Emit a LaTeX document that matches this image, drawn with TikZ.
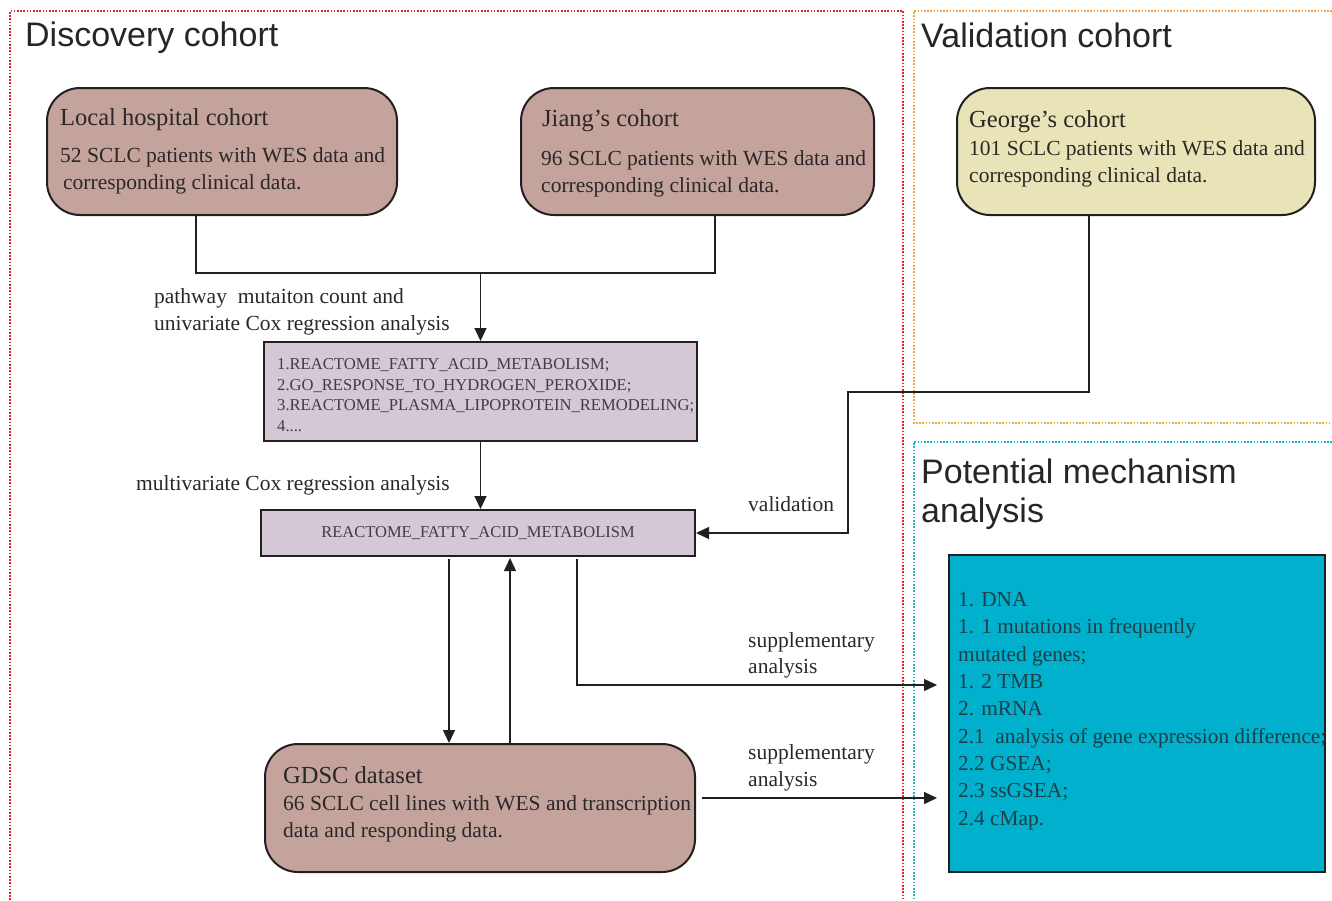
\documentclass[tikz,border=0pt]{standalone}
\usepackage{fontspec}
\setmainfont{Liberation Serif}
\setsansfont{Liberation Sans}
\usetikzlibrary{arrows.meta}
\definecolor{txt}{HTML}{2B2727}
\definecolor{brownfill}{HTML}{C4A39C}
\definecolor{lavfill}{HTML}{D5C8D6}
\definecolor{yelfill}{HTML}{E8E4B8}
\definecolor{cyanfill}{HTML}{00B0CD}
\definecolor{cyantxt}{HTML}{1D3F47}
\definecolor{frred}{HTML}{E8212A}
\definecolor{frorange}{HTML}{F7A740}
\definecolor{frcyan}{HTML}{1BB5D4}
\definecolor{edge}{HTML}{231F20}
\tikzset{
  frame/.style={line width=1.3pt, dash pattern=on 1.6pt off 1.6pt},
  rbox/.style={draw=edge, line width=2pt, rounded corners=33pt, inner sep=0pt},
  sbox/.style={draw=edge, line width=2pt, inner sep=0pt},
  maintitle/.style={font=\sffamily\fontsize{34}{40}\selectfont, text=black!85, anchor=base west, inner sep=0pt},
  boxtitle/.style={font=\fontsize{24.5}{28}\selectfont, text=txt, anchor=base west, inner sep=0pt},
  body/.style={font=\fontsize{21.5}{27}\selectfont, text=txt, anchor=base west, inner sep=0pt},
  small/.style={font=\fontsize{16.6}{20}\selectfont, text=txt!90, anchor=base west, inner sep=0pt},
  mechtxt/.style={font=\fontsize{21.3}{27}\selectfont, text=cyantxt, anchor=base west, inner sep=0pt},
  conn/.style={draw=edge, line width=1.3pt},
  arr/.style={conn, -{Triangle[length=13pt,width=12pt]}},
}
\begin{document}
\begin{tikzpicture}[x=1pt,y=-1pt]
\useasboundingbox (0,0) rectangle (1332,900);
% frames
\draw[frame, frred] (10,900) -- (10,11) -- (903,11) -- (903,900);
\draw[frame, frorange] (1332,11) -- (914,11) -- (914,423) -- (1332,423);
\draw[frame, frcyan] (1332,442) -- (914,442) -- (914,900);
% section titles
\node[maintitle] (t1) at (25,46) {Discovery cohort};
\node[maintitle] (t2) at (921,47) {Validation cohort};
\node[maintitle] (t3a) at (921,483) {Potential mechanism};
\node[maintitle] (t3b) at (921,522) {analysis};
% boxes
\node[rbox, fill=brownfill, minimum width=350pt, minimum height=127pt] (local) at (222,151.5) {};
\node[rbox, fill=brownfill, minimum width=353pt, minimum height=127pt] (jiang) at (697.5,151.5) {};
\node[rbox, fill=yelfill, minimum width=358pt, minimum height=127pt] (george) at (1136,151.5) {};
\node[sbox, fill=lavfill, minimum width=433pt, minimum height=99pt] (pw) at (480.5,391.5) {};
\node[sbox, fill=lavfill, minimum width=434pt, minimum height=46pt, font=\fontsize{16.5}{20}\selectfont, text=txt!90] (ra) at (478,533) {\raisebox{-3pt}{REACTOME\_FATTY\_ACID\_METABOLISM}};
\node[rbox, fill=brownfill, minimum width=430pt, minimum height=128pt] (gdsc) at (480,808) {};
\node[sbox, fill=cyanfill, minimum width=376pt, minimum height=317pt] (mech) at (1137,713.5) {};
% box texts
\node[boxtitle] (localt) at (60,125) {Local hospital cohort};
\node[body] (localb1) at (60,162) {52 SCLC patients with WES data and};
\node[body] (localb2) at (63,189) {corresponding clinical data.};
\node[boxtitle] (jiangt) at (542,126) {Jiang’s cohort};
\node[body] (jiangb1) at (541,165) {96 SCLC patients with WES data and};
\node[body] (jiangb2) at (541,192) {corresponding clinical data.};
\node[boxtitle] (georget) at (969,127) {George’s cohort};
\node[body] (georgeb1) at (969,155) {101 SCLC patients with WES data and};
\node[body] (georgeb2) at (969,182) {corresponding clinical data.};
\node[small] (pw1) at (277,369) {1.REACTOME\_FATTY\_ACID\_METABOLISM;};
\node[small] (pw2) at (277,390) {2.GO\_RESPONSE\_TO\_HYDROGEN\_PEROXIDE;};
\node[small] (pw3) at (277,410.5) {3.REACTOME\_PLASMA\_LIPOPROTEIN\_REMODELING;};
\node[small] (pw4) at (277,431) {4....};
\node[boxtitle] (gdsct) at (283,783) {GDSC dataset};
\node[body] (gdscb1) at (283,810) {66 SCLC cell lines with WES and transcription};
\node[body] (gdscb2) at (283,837) {data and responding data.};
\node[mechtxt] (m1) at (958,606) {1. DNA};
\node[mechtxt] (m2) at (958,633) {1. 1 mutations in frequently};
\node[mechtxt] (m3) at (958,661) {mutated genes;};
\node[mechtxt] (m4) at (958,688) {1. 2 TMB};
\node[mechtxt] (m5) at (958,715) {2. mRNA};
\node[mechtxt] (m6) at (958,743) {2.1~ analysis of gene expression difference;};
\node[mechtxt] (m7) at (958,770) {2.2 GSEA;};
\node[mechtxt] (m8) at (958,797) {2.3 ssGSEA;};
\node[mechtxt] (m9) at (958,825) {2.4 cMap.};
% labels
\node[body] (l1a) at (154,303) {pathway~ mutaiton count and};
\node[body] (l1b) at (154,330) {univariate Cox regression analysis};
\node[body] (l2) at (136,490) {multivariate Cox regression analysis};
\node[body] (l3) at (748,511) {validation};
\node[body] (l4a) at (748,647) {supplementary};
\node[body] (l4b) at (748,673) {analysis};
\node[body] (l5a) at (748,759) {supplementary};
\node[body] (l5b) at (748,786) {analysis};
% coordinates
\coordinate (c1) at (196,273);
\coordinate (c2) at (715,273);
\coordinate (v1) at (1089,392);
\coordinate (v2) at (848,392);
\coordinate (d1) at (449,650);
\coordinate (u1) at (510,650);
\coordinate (s1) at (577,685);
\coordinate (s3) at (702,798);
% connectors
\draw[conn] (local.south -| c1) -- (c1) -- (c2) -- (jiang.south -| c2);
\draw[arr] (c1 -| pw.north) -- (pw.north);
\draw[arr] (pw.south) -- (pw.south |- ra.north);
\draw[arr] (george.south -| v1) -- (v1) -- (v2) -- (v2 |- ra.east) -- (ra.east);
\draw[arr, shorten <=2pt] (ra.south -| d1) -- (gdsc.north -| d1);
\draw[arr] (gdsc.north -| u1) -- ([yshift=-1pt]ra.south -| u1);
\draw[arr, shorten >=11pt, shorten <=2pt] (ra.south -| s1) -- (s1) -- (s1 -| mech.west);
\draw[arr, shorten >=11pt] (s3) -- (s3 -| mech.west);
\end{tikzpicture}
\end{document}
